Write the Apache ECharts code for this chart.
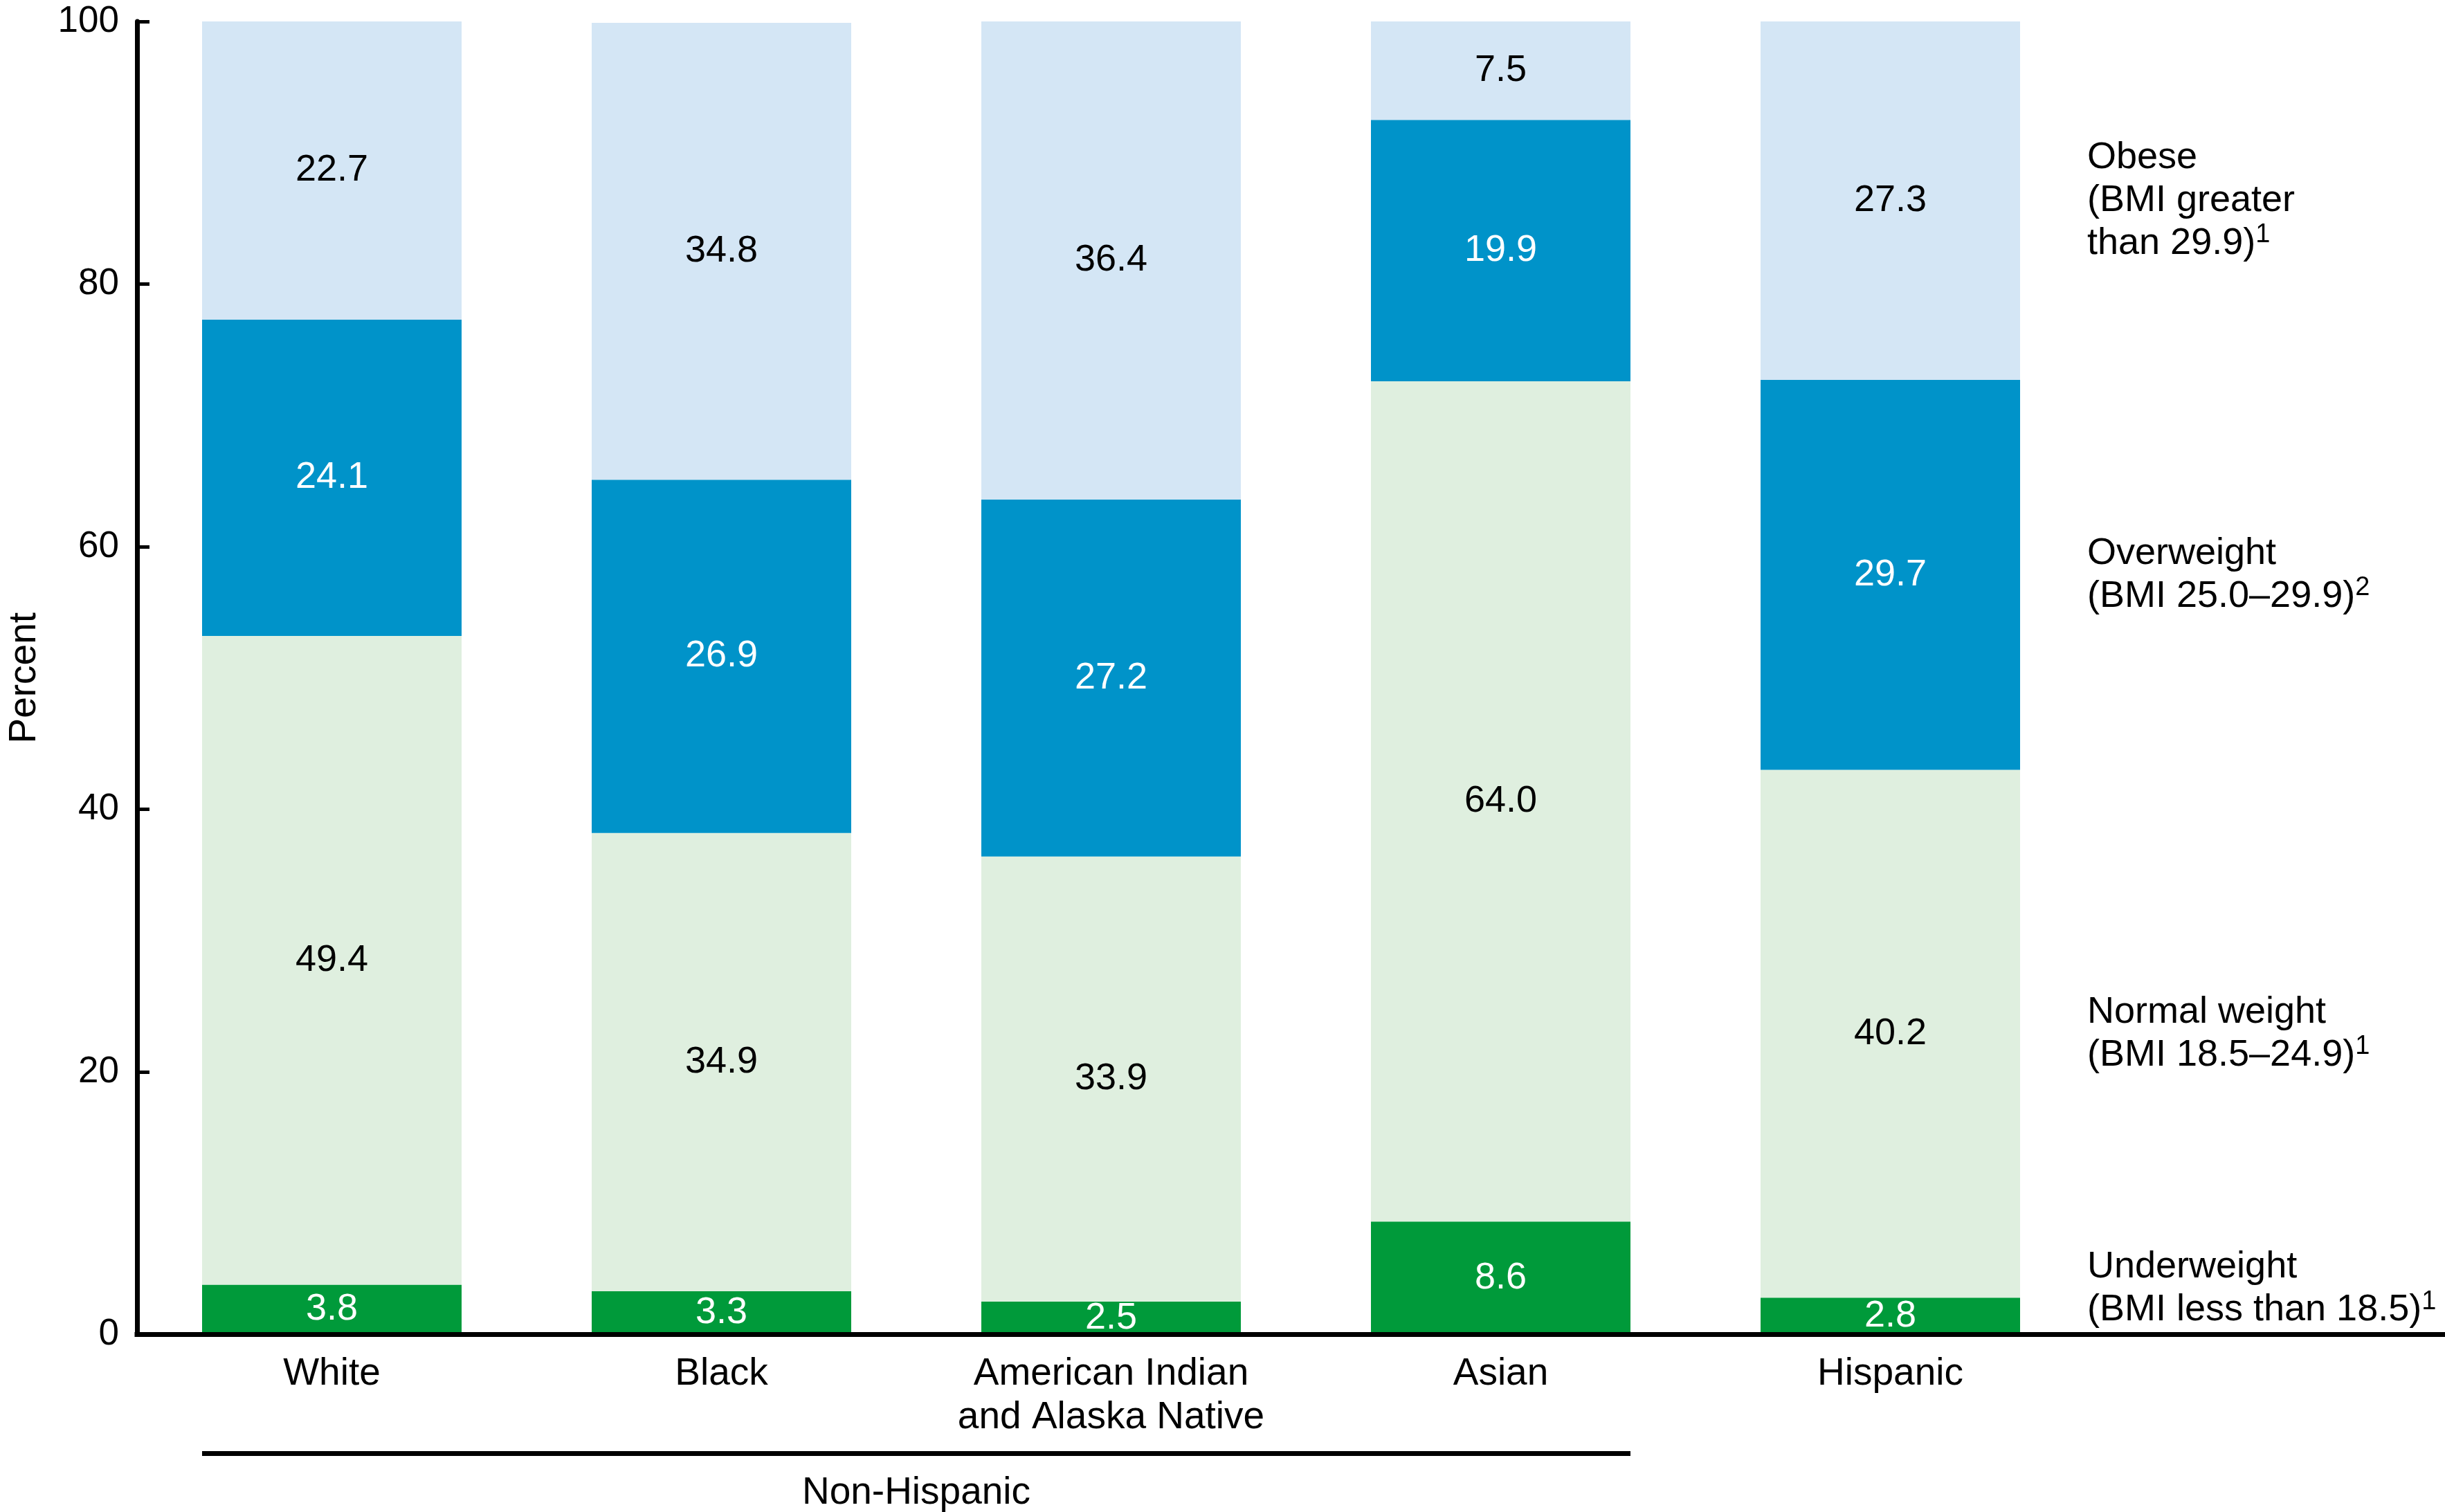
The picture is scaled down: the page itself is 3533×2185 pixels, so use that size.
<!DOCTYPE html>
<html><head><meta charset="utf-8">
<script src="https://cdn.jsdelivr.net/npm/echarts@6/dist/echarts.min.js"></script>
<style>html,body{margin:0;padding:0;background:#fff}#c{width:3533px;height:2185px}</style>
</head><body><div id="c"></div>
<script>
const categories = ['White', 'Black', 'American Indian\nand Alaska Native', 'Asian', 'Hispanic'];
const underweight = [3.8, 3.3, 2.5, 8.6, 2.8];
const normalWeight = [49.4, 34.9, 33.9, 64.0, 40.2];
const overweight = [24.1, 26.9, 27.2, 19.9, 29.7];
const obese = [22.7, 34.8, 36.4, 7.5, 27.3];
const yTickMin = 0, yTickMax = 100, yTickStep = 20;
const groupLabel = 'Non-Hispanic';
const groupFirst = 0, groupLast = 3;
const yName = 'Percent';
const seriesNames = ['Underweight', 'Normal weight', 'Overweight', 'Obese'];
const seriesLegendText = [
  'Underweight\n(BMI less than 18.5){s|1}',
  'Normal weight\n(BMI 18.5–24.9){s|1}',
  'Overweight\n(BMI 25.0–29.9){s|2}',
  'Obese\n(BMI greater\nthan 29.9){s|1}'
];
const seriesColors = ['#009a3a', '#dfefdf', '#0093c9', '#d4e6f5'];
const labelColors = ['#ffffff', '#000000', '#ffffff', '#000000'];

const F = '"Liberation Sans", Arial, Helvetica, sans-serif';
const BAR_W = 375;
const chart = echarts.init(document.getElementById('c'), null, {renderer: 'canvas'});
const seriesData = [underweight, normalWeight, overweight, obese];

chart.setOption({
  backgroundColor: '#fff',
  animation: false,
  grid: {left: 198, top: 31, width: 2815, height: 1897.5, containLabel: false, outerBoundsMode: 'none'},
  xAxis: {
    type: 'category', data: categories,
    axisLine: {show: false}, axisTick: {show: false},
    axisLabel: {interval: 0, fontSize: 55, lineHeight: 63, margin: 26, color: '#000', fontFamily: F}
  },
  yAxis: {
    type: 'value', min: yTickMin, max: yTickMax, interval: yTickStep,
    name: yName, nameLocation: 'middle', nameRotate: 90, nameGap: 135,
    nameTextStyle: {fontSize: 55, color: '#000', fontFamily: F},
    axisLine: {show: true, lineStyle: {color: '#000', width: 7}},
    axisTick: {show: true, inside: true, length: 18, lineStyle: {color: '#000', width: 5}},
    axisLabel: {fontSize: 53, margin: 26, color: '#000', fontFamily: F},
    splitLine: {show: false}
  },
  series: seriesData.map((d, i) => ({
    name: seriesNames[i], type: 'bar', stack: 'total', data: d, barWidth: BAR_W,
    itemStyle: {color: seriesColors[i]},
    label: {show: true, position: 'inside', color: labelColors[i], fontSize: 54, fontFamily: F,
      formatter: p => Number(p.value).toFixed(1)}
  }))
});

function addGraphics() {
  const zeroY = chart.convertToPixel({yAxisIndex: 0}, 0);
  const axisX = chart.convertToPixel({xAxisIndex: 0}, 0) - 2815 / categories.length / 2;
  const xLeft = chart.convertToPixel({xAxisIndex: 0}, groupFirst) - BAR_W / 2;
  const xRight = chart.convertToPixel({xAxisIndex: 0}, groupLast) + BAR_W / 2;
  const lastIdx = categories.length - 1;
  const lastX = chart.convertToPixel({xAxisIndex: 0}, lastIdx) + BAR_W / 2;
  const els = [];
  els.push({type: 'line', shape: {x1: axisX - 3.5, y1: zeroY, x2: 3533, y2: zeroY},
    style: {stroke: '#000', lineWidth: 7}, z: 10});
  const bracketY = zeroY + 172;
  els.push({type: 'line', shape: {x1: xLeft, y1: bracketY, x2: xRight, y2: bracketY},
    style: {stroke: '#000', lineWidth: 7}});
  els.push({type: 'text', x: (xLeft + xRight) / 2, y: bracketY + 57,
    style: {text: groupLabel, fontSize: 55, fontFamily: F, fill: '#000', align: 'center', verticalAlign: 'middle'}});
  let cum = 0;
  seriesData.forEach((d, i) => {
    const v = d[lastIdx];
    const mid = cum + v / 2;
    cum += v;
    let yc = chart.convertToPixel({yAxisIndex: 0}, mid);
    const nLines = seriesLegendText[i].split('\n').length;
    const half = nLines * 62 / 2;
    if (yc + half > zeroY - 4) yc = zeroY - 4 - half;
    els.push({type: 'text', x: lastX + 97, y: yc,
      style: {text: seriesLegendText[i], fontSize: 54, fontFamily: F, fill: '#000', lineHeight: 62,
        align: 'left', verticalAlign: 'middle',
        rich: {s: {fontSize: 38, fontFamily: F, fill: '#000', lineHeight: 28, verticalAlign: 'top'}}}});
  });
  chart.setOption({graphic: {elements: els}});
}
addGraphics();
</script>
</body></html>
